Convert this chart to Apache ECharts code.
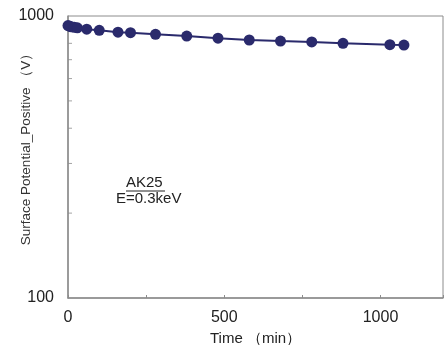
<!DOCTYPE html>
<html>
<head>
<meta charset="utf-8">
<script src="https://cdn.jsdelivr.net/npm/echarts@6/dist/echarts.min.js"></script>
<style>
  html, body { margin: 0; padding: 0; background: #fff; }
  #main { width: 448px; height: 345px; }
</style>
</head>
<body>
<div id="main"></div>
<script>
// 数据：时间(min) 与 表面电位(V)
var timeMin = [0, 5, 10, 20, 30, 60, 100, 160, 200, 280, 380, 480, 580, 680, 780, 880, 1030, 1075];
var potential = [925, 920, 916, 912, 908, 898, 890, 876, 873, 861, 849, 834, 822, 815, 809, 800, 791, 789];
var yMinorTicks = [200, 300, 400, 500, 600, 700, 800, 900];
var xTickLabels = [0, 500, 1000];

var fontFam = '"Liberation Sans", Arial, sans-serif';
var axisGray = '#8c8c8c';
var navy = '#2a2a6c';

var seriesData = timeMin.map(function (t, i) { return [t, potential[i]]; });
var tickData = yMinorTicks.map(function (v) { return [0, v]; });

var chart = echarts.init(document.getElementById('main'));
chart.setOption({
    animation: false,
    backgroundColor: '#fff',
    grid: {
        left: 68, right: 5, top: 16, bottom: 47,
        outerBoundsMode: 'none',
        containLabel: false,
        show: true, borderColor: axisGray, borderWidth: 1
    },
    xAxis: {
        type: 'value',
        min: 0, max: 1200, interval: 250,
        name: 'Time （min）',
        nameLocation: 'middle',
        nameGap: 30,
        nameTextStyle: { fontFamily: fontFam, fontSize: 15, color: '#222' },
        axisLine: { lineStyle: { color: axisGray, width: 1.5 } },
        axisTick: { inside: true, length: 3, lineStyle: { color: axisGray } },
        axisLabel: {
            fontFamily: fontFam, fontSize: 16, color: '#222', margin: 12,
            formatter: function (v) { return xTickLabels.indexOf(v) >= 0 ? String(v) : ''; }
        },
        splitLine: { show: false }
    },
    yAxis: {
        type: 'log', logBase: 10,
        min: 100, max: 1000,
        axisLine: { show: true, lineStyle: { color: axisGray, width: 1.5 } },
        axisTick: { show: false },
        axisLabel: {
            fontFamily: fontFam, fontSize: 16, color: '#222', margin: 14,
            formatter: function (v) { return String(Math.round(v)); }
        },
        splitLine: { show: false }
    },
    graphic: [
        {
            // y轴标题
            type: 'text', x: 26, y: 146, rotation: Math.PI / 2,
            style: {
                text: 'Surface Potential_Positive （V）', fontFamily: fontFam, fontSize: 13.5,
                fill: '#333', align: 'center', verticalAlign: 'middle'
            }
        },
        {
            type: 'text', left: 126, top: 175,
            style: { text: 'AK25', fontFamily: fontFam, fontSize: 15, fill: '#222' }
        },
        {
            type: 'line', shape: { x1: 126, y1: 191, x2: 165, y2: 191 },
            style: { stroke: '#222', lineWidth: 1 }
        },
        {
            type: 'text', left: 116, top: 191,
            style: { text: 'E=0.3keV', fontFamily: fontFam, fontSize: 15, fill: '#222' }
        }
    ],
    series: [
        {
            // y轴次刻度
            type: 'scatter',
            data: tickData,
            symbol: 'rect',
            symbolSize: [4, 1],
            symbolOffset: [2, 0],
            itemStyle: { color: axisGray },
            silent: true,
            clip: false,
            z: 1
        },
        {
            type: 'line',
            data: seriesData,
            symbol: 'circle',
            symbolSize: 11,
            lineStyle: { color: navy, width: 2 },
            itemStyle: { color: navy },
            z: 3
        }
    ]
});
</script>
</body>
</html>
